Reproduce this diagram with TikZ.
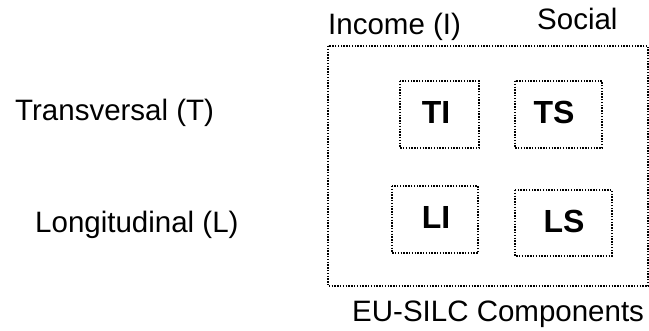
\documentclass[tikz,border=0pt]{standalone}
\usepackage{fontspec}
\setmainfont{Liberation Sans}
\begin{document}
\begin{tikzpicture}[x=1pt,y=-1pt,
  dotbox/.style={draw, line width=1.4pt, dash pattern=on 1.4pt off 1.4pt},
  lbl/.style={font=\fontsize{29.5}{34}\selectfont, inner sep=0pt},
  code/.style={font=\fontsize{32}{36}\selectfont\bfseries, inner sep=0pt}]
\useasboundingbox (0,0) rectangle (649,330);
\draw[dotbox] (328,46) rectangle (648,286);
\draw[dotbox] (400,81) rectangle (479,148);
\draw[dotbox] (515,81) rectangle (602,148);
\draw[dotbox] (392,186) rectangle (478,253);
\draw[dotbox] (515,190) rectangle (612,256);
\node[code, anchor=base] (ti) at (436,123) {TI};
\node[code, anchor=base] (ts) at (554,123) {TS};
\node[code, anchor=base] (li) at (436,228) {LI};
\node[code, anchor=base] (ls) at (564,232) {LS};
\node[lbl, anchor=base west] (inc) at (328,34) {Income (I)};
\node[lbl, anchor=base west] (soc) at (537,29) {Social};
\node[lbl, anchor=base west] (tr) at (15,120) {Transversal (T)};
\node[lbl, anchor=base west] (lo) at (35,232) {Longitudinal (L)};
\node[lbl, anchor=base west] (eu) at (352,321) {EU-SILC Components};
\end{tikzpicture}
\end{document}
